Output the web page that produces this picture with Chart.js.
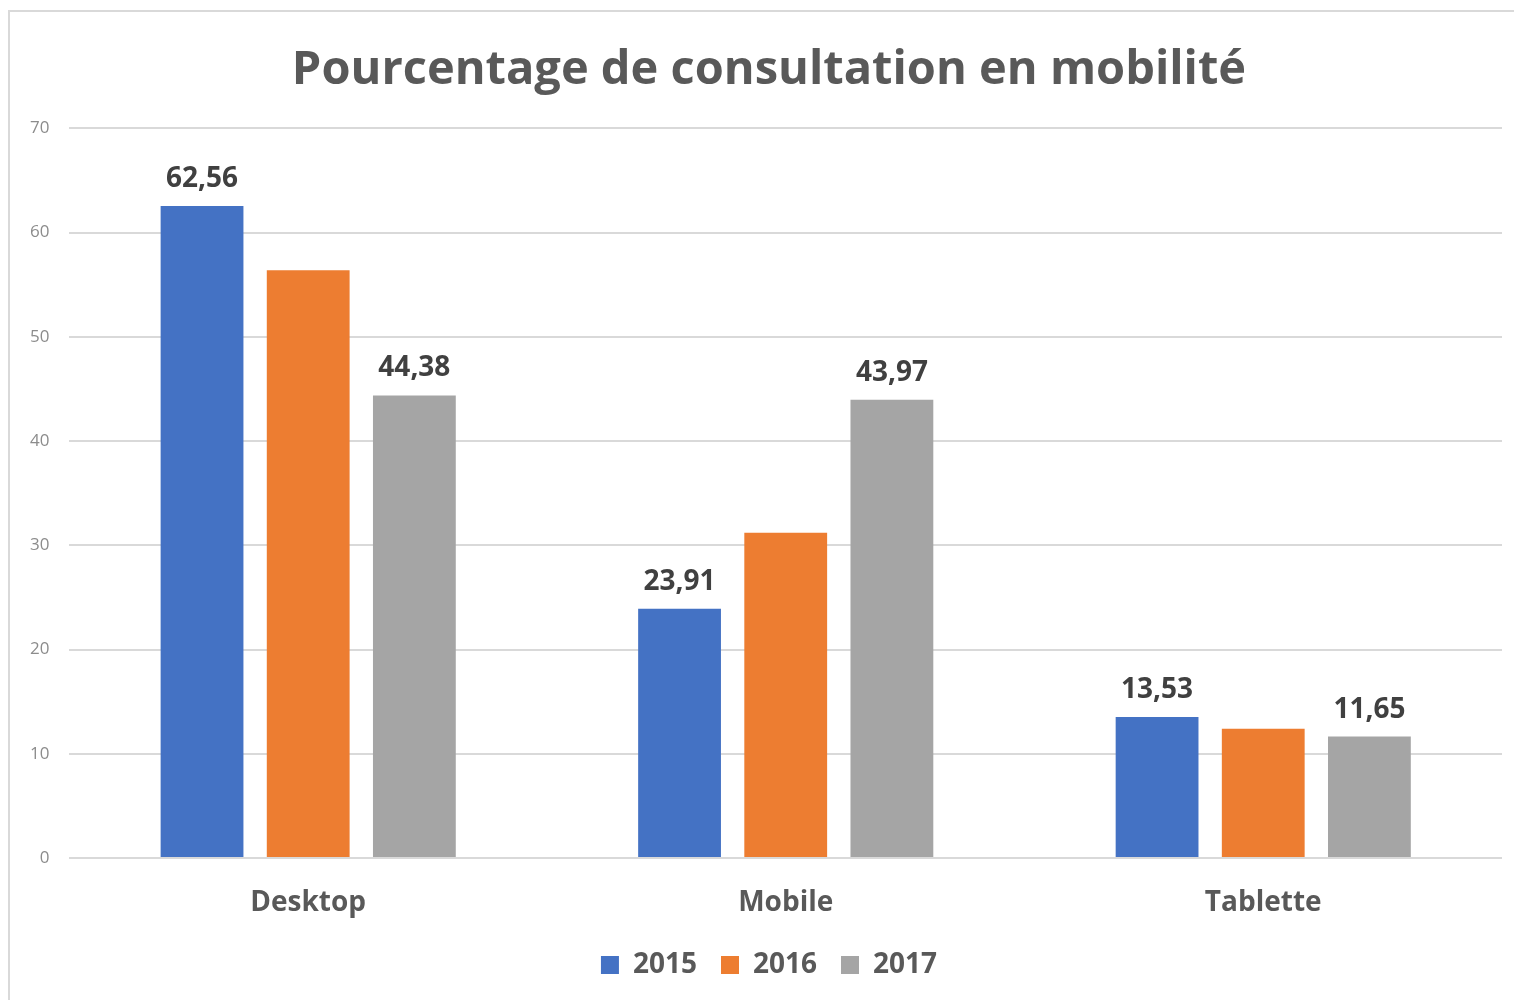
<!DOCTYPE html>
<html>
<head>
<meta charset="utf-8">
<script src="https://cdn.jsdelivr.net/npm/chart.js@4"></script>
<style>
  html, body { margin: 0; background: #fff; overflow: hidden; }
  #frame {
    position: absolute; left: 8px; top: 10px; width: 1506px; height: 990px;
    border-left: 2px solid #d9d9d9; border-top: 2px solid #d9d9d9;
  }
  #wrap { position: absolute; left: 0; top: 0; width: 1540px; height: 1000px; }
</style>
</head>
<body>
<div id="frame"></div>
<div id="wrap"><canvas id="chart"></canvas></div>
<script>
const categories = ['Desktop', 'Mobile', 'Tablette'];
const years = ['2015', '2016', '2017'];
const values2015 = [62.56, 23.91, 13.53];
const values2016 = [56.4, 31.2, 12.4];
const values2017 = [44.38, 43.97, 11.65];
const colors = ['#4472c4', '#ed7d31', '#a5a5a5'];
const showLabels = [true, false, true];
const yTicks = [0, 10, 20, 30, 40, 50, 60, 70];

const font = "'Open Sans', 'Noto Sans', sans-serif";

// draws value labels above the bars of the labelled series
const valueLabels = {
  id: 'valueLabels',
  afterDatasetsDraw(chart) {
    const ctx = chart.ctx;
    ctx.save();
    ctx.font = 'bold 28px ' + font;
    ctx.fillStyle = '#404040';
    ctx.textAlign = 'center';
    ctx.textBaseline = 'bottom';
    chart.data.datasets.forEach(function(ds, i) {
      if (!showLabels[i]) return;
      chart.getDatasetMeta(i).data.forEach(function(bar, j) {
        const txt = ds.data[j].toFixed(2).replace('.', ',');
        ctx.fillText(txt, bar.x, bar.y - 13);
      });
    });
    ctx.restore();
  }
};

new Chart(document.getElementById('chart'), {
  type: 'bar',
  data: {
    labels: categories,
    datasets: [values2015, values2016, values2017].map(function(vals, i) {
      return {
        label: years[i],
        data: vals,
        backgroundColor: colors[i],
        barPercentage: 0.78,
        categoryPercentage: 0.667
      };
    })
  },
  options: {
    responsive: true,
    maintainAspectRatio: false,
    animation: false,
    layout: { padding: { left: 10, right: 12, top: 42, bottom: 11 } },
    plugins: {
      title: {
        display: true,
        text: 'Pourcentage de consultation en mobilité',
        color: '#595959',
        font: { family: font, size: 47, weight: 'bold' },
        padding: { top: 0, bottom: 30 }
      },
      legend: {
        position: 'bottom',
        labels: {
          color: '#595959',
          font: { family: font, size: 28, weight: 'bold' },
          boxWidth: 18, boxHeight: 18, padding: 24
        }
      },
      tooltip: { enabled: false }
    },
    scales: {
      x: {
        grid: { display: false },
        border: { display: false },
        ticks: { color: '#595959', font: { family: font, size: 28, weight: 'bold' }, padding: 20 },
        afterFit(axis) { axis.height = 69; }
      },
      y: {
        min: 0, max: 70,
        afterBuildTicks(axis) { axis.ticks = yTicks.map(v => ({ value: v })); },
        grid: { color: '#d9d9d9', lineWidth: 2, drawTicks: false },
        border: { display: false },
        ticks: { color: '#8c8c8c', font: { family: font, size: 17 }, padding: 20 }
      },
      // empty right margin so the title and legend sit right of centre
      yRight: {
        position: 'right',
        min: 0, max: 70,
        grid: { display: false },
        border: { display: false },
        ticks: { display: false },
        afterFit(axis) { axis.width = 26; }
      }
    }
  },
  plugins: [valueLabels]
});
</script>
</body>
</html>
